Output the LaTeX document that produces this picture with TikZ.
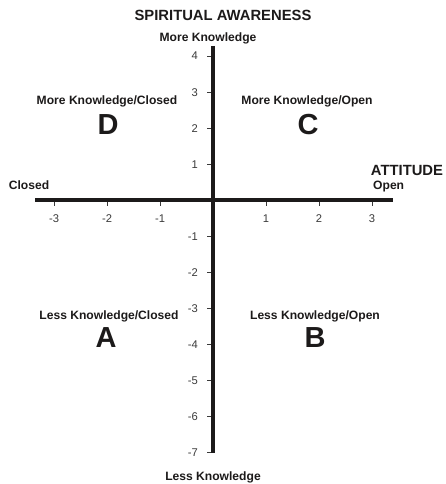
\documentclass[tikz,border=0pt]{standalone}
\usepackage{fontspec}
\setmainfont{Liberation Sans}
\definecolor{ink}{HTML}{1C1A1A}
\definecolor{numink}{HTML}{3A3A3A}
\tikzset{
  lbl/.style={font=\bfseries\fontsize{12.1}{12}\selectfont, text=ink, inner sep=0pt, anchor=base},
  head/.style={font=\bfseries\fontsize{14.8}{15}\selectfont, text=ink, inner sep=0pt, anchor=base},
  bigletter/.style={font=\bfseries\fontsize{29}{29}\selectfont, text=ink, inner sep=0pt, anchor=base},
  numlbl/.style={font=\fontsize{11.2}{11}\selectfont, text=numink, inner sep=0pt, anchor=base},
  axisline/.style={line width=4.3pt, ink},
  tickmark/.style={line width=0.8pt, numink}
}
\begin{document}
\begin{tikzpicture}[x=1pt, y=-1pt]
  \useasboundingbox (0,0) rectangle (445,484);
  % axes
  \coordinate (ytop) at (213,46);
  \coordinate (ybot) at (213,453);
  \coordinate (xleft) at (35,200);
  \coordinate (xright) at (393,200);
  % ticks
  \foreach \v/\n in {-3/xm3,-2/xm2,-1/xm1,1/xp1,2/xp2,3/xp3} {
    \coordinate (\n) at ({213+53*\v},200);
    \draw[tickmark] (\n) -- ++(0,5.5);
    \node[numlbl] (\n l) at ({213+53*\v},222) {\v};
  }
  \foreach \v/\n in {4/yp4,3/yp3,2/yp2,1/yp1,-1/ym1,-2/ym2,-3/ym3,-4/ym4,-5/ym5,-6/ym6,-7/ym7} {
    \coordinate (\n) at (213,{200-36*\v});
    \draw[tickmark] (\n) -- ++(-6.5,0);
    \node[numlbl, anchor=base east] (\n l) at (198,{200-36*\v+4}) {\v};
  }
  \draw[axisline] (xleft) -- (xright);
  \draw[axisline] (ytop) -- (ybot);
  % titles
  \node[head] (title) at (223,20.3) {SPIRITUAL AWARENESS};
  \node[lbl] (moreK) at (208,41.3) {More Knowledge};
  \node[lbl] (lessK) at (213,480.3) {Less Knowledge};
  \node[head] (attitude) at (407,175.2) {ATTITUDE};
  \node[lbl, anchor=base west] (open) at (373,189.3) {Open};
  \node[lbl] (closed) at (29,189.3) {Closed};
  % quadrants
  \node[lbl] (qD) at (107,104.3) {More Knowledge/Closed};
  \node[lbl] (qC) at (307,104.3) {More Knowledge/Open};
  \node[lbl] (qA) at (109,319.3) {Less Knowledge/Closed};
  \node[lbl] (qB) at (315,319.3) {Less Knowledge/Open};
  \node[bigletter] (D) at (108,134.4) {D};
  \node[bigletter] (C) at (308,134.4) {C};
  \node[bigletter] (A) at (106,347.4) {A};
  \node[bigletter] (B) at (315,347.4) {B};
\end{tikzpicture}
\end{document}
